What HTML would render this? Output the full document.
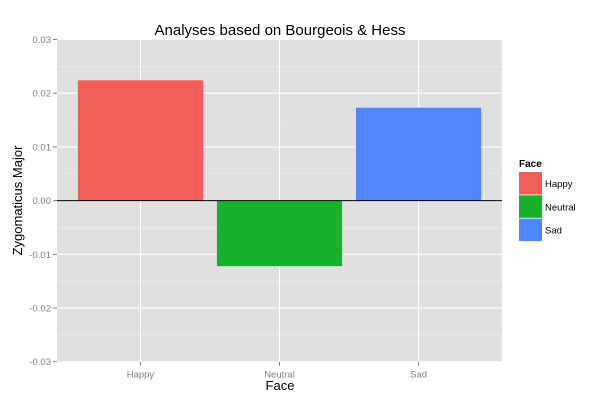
<!DOCTYPE html>
<html><head><meta charset="utf-8"><style>
body{margin:0;background:#fff;}
svg text{font-family:"Liberation Sans",Arial,sans-serif;}
</style></head><body>
<svg id="chart" width="612" height="404" xmlns="http://www.w3.org/2000/svg">
<rect x="0" y="0" width="612" height="404" fill="#fff"/>
<rect x="57" y="39.5" width="445" height="322.2" fill="#e0e0e0"/>
<g id="grid"></g>
<g id="bars"></g>
<g id="axes"></g>
<text x="280" y="35" font-size="15" text-anchor="middle">Analyses based on Bourgeois &amp; Hess</text>
<text x="280" y="390" font-size="13" text-anchor="middle">Face</text>
<text transform="translate(22,200.5) rotate(-90)" font-size="13" text-anchor="middle">Zygomaticus Major</text>
<g id="legend">
<text x="519" y="167" font-size="10" font-weight="bold">Face</text>
</g>
</svg>
<script>
const categories = ["Happy", "Neutral", "Sad"];
const values = [0.0224, -0.0122, 0.0173];
const colors = ["#F35E5A", "#17B12B", "#5086FF"];
const yTicks = [-0.03, -0.02, -0.01, 0, 0.01, 0.02, 0.03];
const yTickLabels = ["-0.03", "-0.02", "-0.01", "0.00", "0.01", "0.02", "0.03"];

const NS = "http://www.w3.org/2000/svg";
const px0 = 57, px1 = 502, pyTop = 39.5, pyBot = 361.7;
const yMin = -0.03, yMax = 0.03;
function y(v){ return pyBot - (v - yMin) / (yMax - yMin) * (pyBot - pyTop); }
const unit = (px1 - px0) / (categories.length - 1 + 1.2);
function xc(i){ return px0 + unit * (i + 0.6); }
const bw = unit * 0.9;
function mk(tag, attrs, parent){ const e = document.createElementNS(NS, tag); for (const k in attrs) e.setAttribute(k, attrs[k]); parent.appendChild(e); return e; }

const grid = document.getElementById("grid");
const axes = document.getElementById("axes");
for (let i = 0; i < yTicks.length - 1; i++) {
  const m = (yTicks[i] + yTicks[i+1]) / 2;
  const l = mk("line", {x1:px0, x2:px1, y1:y(m), y2:y(m), stroke:"#ececec", "stroke-width":0.6}, grid);
  
  
}
yTicks.forEach((t, i) => {
  const l = mk("line", {x1:px0, x2:px1, y1:y(t), y2:y(t), stroke:"#fff", "stroke-width":1.1}, grid);
  
  
  const tk = mk("line", {x1:px0-4, x2:px0, y1:y(t), y2:y(t), stroke:"#7f7f7f", "stroke-width":1}, axes);
  
  
  const tx = mk("text", {x:px0-6, y:y(t)+3.5, "font-size":9.5, fill:"#7f7f7f", "text-anchor":"end"}, axes);
  tx.textContent = yTickLabels[i];
  
  
});
categories.forEach((c, i) => {
  const l = mk("line", {x1:xc(i), x2:xc(i), y1:pyTop, y2:pyBot, stroke:"#fff", "stroke-width":1.1}, grid);
  
  
  const tk = mk("line", {x1:xc(i), x2:xc(i), y1:pyBot, y2:pyBot+4, stroke:"#7f7f7f", "stroke-width":1}, axes);
  
  
  const tx = mk("text", {x:xc(i), y:pyBot+16, "font-size":9.5, fill:"#7f7f7f", "text-anchor":"middle"}, axes);
  tx.textContent = c;
  
  
});
const bars = document.getElementById("bars");
values.forEach((v, i) => {
  const top = Math.min(y(v), y(0)), h = Math.abs(y(v) - y(0));
  const r = mk("rect", {x:xc(i)-bw/2, y:top, width:bw, height:h, fill:colors[i]}, bars);
  
  
});
const zl = mk("line", {x1:px0, x2:px1, y1:y(0), y2:y(0), stroke:"#000", "stroke-width":1}, bars);



const legend = document.getElementById("legend");
categories.forEach((c, i) => {
  const ky = 172 + i * 23.3;
  const k = mk("rect", {x:519, y:ky, width:23, height:22.5, fill:colors[i]}, legend);
  
  
  const t = mk("text", {x:545, y:ky+15, "font-size":9.5}, legend);
  t.textContent = c;
  
  
});
</script>
</body></html>
